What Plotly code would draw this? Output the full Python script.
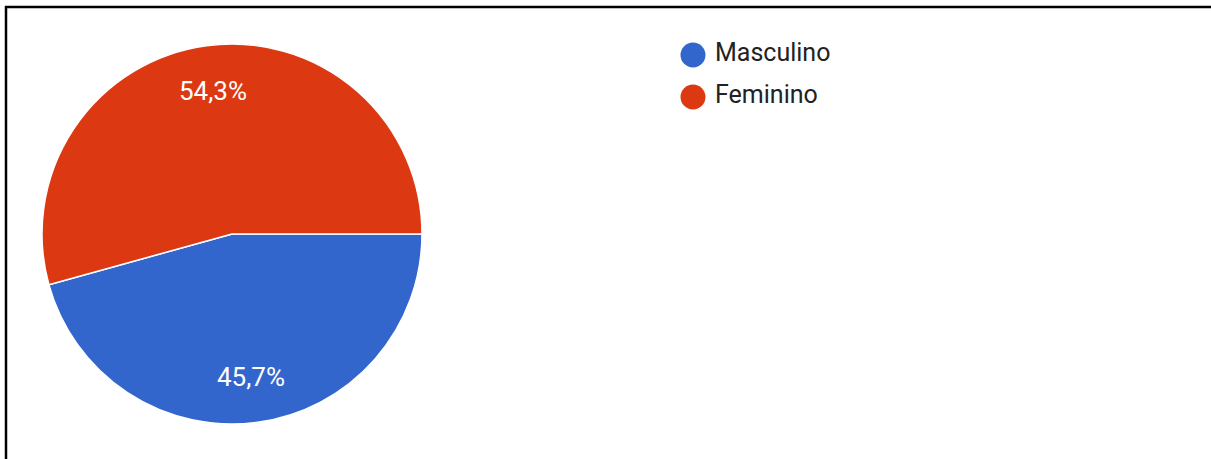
import math
import plotly.graph_objects as go

# Data
categories = ["Masculino", "Feminino"]
values = [45.7, 54.3]
colors = ["#3366CC", "#DC3912"]

W, H = 1211, 459
FONT = "Roboto"

fig = go.Figure()

# Pie geometry (pixels)
cx, cy, R = 232, 234, 190
fig.add_trace(go.Pie(
    labels=categories,
    values=values,
    sort=False,
    direction="clockwise",
    rotation=90,
    marker=dict(colors=colors, line=dict(color="white", width=1.5)),
    textinfo="none",
    hoverinfo="label+percent",
    showlegend=False,
    domain=dict(x=[(cx - R) / W, (cx + R) / W], y=[(H - cy - R) / H, (H - cy + R) / H]),
))

# Slice labels placed along each slice's bisector (computed from the values)
total = sum(values)
cum = 0.0
label_r = 0.76 * R
for cat, v in zip(categories, values):
    mid = (cum + v / 2) / total * 2 * math.pi  # clockwise from 3 o'clock
    cum += v
    fig.add_annotation(
        x=cx + label_r * math.cos(mid), y=cy + label_r * math.sin(mid),
        xref="x", yref="y", showarrow=False,
        text=f"{v:.1f}%".replace(".", ","),
        font=dict(family=FONT, size=26, color="white"),
        xanchor="center", yanchor="middle",
    )

# Legend drawn with circle markers on a pixel-mapped hidden axis
leg_x, leg_y0, leg_dy = 693, 55, 42
ys = [leg_y0 + i * leg_dy for i in range(len(categories))]
fig.add_trace(go.Scatter(
    x=[leg_x] * len(categories), y=ys, mode="markers",
    marker=dict(size=25, color=colors, symbol="circle"),
    showlegend=False, hoverinfo="skip",
))
fig.add_trace(go.Scatter(
    x=[leg_x + 22] * len(categories), y=ys, mode="text",
    text=categories, textposition="middle right",
    textfont=dict(family=FONT, size=25, color="#222222"),
    showlegend=False, hoverinfo="skip",
))

fig.update_layout(
    width=W, height=H,
    margin=dict(l=0, r=0, t=0, b=0),
    paper_bgcolor="white", plot_bgcolor="rgba(0,0,0,0)",
    xaxis=dict(range=[0, W], visible=False, domain=[0, 1], fixedrange=True),
    yaxis=dict(range=[H, 0], visible=False, domain=[0, 1], fixedrange=True),
    shapes=[
        dict(type="line", xref="paper", yref="paper", x0=6 / W, x1=6 / W, y0=0, y1=(H - 6) / H,
             line=dict(color="black", width=2.5)),
        dict(type="line", xref="paper", yref="paper", x0=5 / W, x1=1, y0=(H - 7) / H, y1=(H - 7) / H,
             line=dict(color="black", width=2.5)),
    ],
)

fig.write_html("out.html", config={"displayModeBar": False},
               post_script="document.body.style.margin='0';")
